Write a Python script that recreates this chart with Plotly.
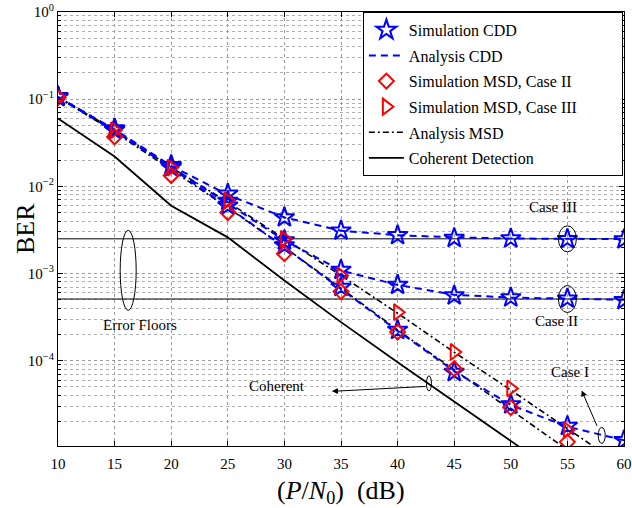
import math
import plotly.graph_objects as go

# ---------------- data ----------------
snr_db = [10, 15, 20, 25, 30, 35, 40, 45, 50, 55, 60]
snr_msd = [10, 15, 20, 25, 30, 35, 40, 45, 50, 55]

sim_cdd_case1 = [0.105, 0.044, 0.0165, 0.0060, 0.0021, 7.0e-4, 2.25e-4, 7.4e-5, 3.15e-5, 1.78e-5, 1.22e-5]
sim_cdd_case2 = [0.107, 0.045, 0.0170, 0.0068, 0.0024, 1.10e-3, 7.4e-4, 5.6e-4, 5.3e-4, 5.15e-4, 4.95e-4]
sim_cdd_case3 = [0.108, 0.046, 0.0175, 0.0082, 0.0044, 3.1e-3, 2.75e-3, 2.55e-3, 2.52e-3, 2.48e-3, 2.46e-3]

ana_cdd_case1 = [0.105, 0.043, 0.0163, 0.0058, 0.0020, 6.6e-4, 2.2e-4, 7.6e-5, 3.1e-5, 1.75e-5, 1.22e-5]
ana_cdd_case2 = [0.105, 0.044, 0.0167, 0.0064, 0.0024, 1.08e-3, 7.4e-4, 5.7e-4, 5.3e-4, 5.15e-4, 5.0e-4]
ana_cdd_case3 = [0.106, 0.045, 0.0172, 0.0080, 0.0044, 3.1e-3, 2.75e-3, 2.6e-3, 2.52e-3, 2.5e-3, 2.48e-3]

sim_msd_case2 = [0.104, 0.037, 0.0133, 0.0050, 0.00169, 6.2e-4, 2.13e-4, 8.1e-5, 2.9e-5, 1.17e-5]
sim_msd_case3 = [0.108, 0.044, 0.0164, 0.0069, 0.0025, 9.5e-4, 3.6e-4, 1.26e-4, 4.8e-5, 1.6e-5]

ana_msd_case2 = [0.105, 0.042, 0.0155, 0.0057, 0.0020, 6.8e-4, 2.25e-4, 7.8e-5, 2.7e-5, 9.5e-6, 3.3e-6]
ana_msd_case3 = [0.106, 0.044, 0.0165, 0.0066, 0.0025, 9.5e-4, 3.5e-4, 1.25e-4, 4.6e-5, 1.65e-5, 6.0e-6]

coherent = [0.060, 0.022, 0.0060, 0.0026, 8.3e-4, 2.77e-4, 9.6e-5, 3.4e-5, 1.2e-5, 4.2e-6, 1.5e-6]

floor_case3 = 2.5e-3
floor_case2 = 5.1e-4

x_ticks = [10, 15, 20, 25, 30, 35, 40, 45, 50, 55, 60]
y_ticks = [1, 0.1, 0.01, 0.001, 0.0001]
y_ticktext = ["10<sup>0</sup>", "10<sup>\u22121</sup>", "10<sup>\u22122</sup>",
              "10<sup>\u22123</sup>", "10<sup>\u22124</sup>"]

FONT = "Liberation Serif, Times New Roman, serif"
BLUE = "#0000ff"
RED = "#ff0000"

W, H = 632, 508
ML, MR, MT, MB = 58, 8, 12, 62
PW, PH = W - ML - MR, H - MT - MB
YMIN = math.log10(1.05e-5)
YMAX = 0.0


def py(logv):
    """log10 value -> paper y"""
    return (logv - YMIN) / (YMAX - YMIN)


def px_x(pix):
    """window pixel x -> paper x"""
    return (pix - ML) / PW


def px_y(pix):
    """window pixel y -> paper y"""
    return (H - MB - pix) / PH


fig = go.Figure()

# error floor lines
for fl in [floor_case3, floor_case2]:
    fig.add_trace(go.Scatter(x=[snr_db[0], snr_db[-1]], y=[fl, fl], mode="lines",
                             line=dict(color="black", width=1), showlegend=False,
                             hoverinfo="skip"))

# coherent
fig.add_trace(go.Scatter(x=snr_db, y=coherent, mode="lines", name="Coherent Detection",
                         legendgroup="coh", line=dict(color="black", width=1.8), legendrank=6))

# analysis MSD
for i, ys in enumerate([ana_msd_case2, ana_msd_case3]):
    fig.add_trace(go.Scatter(x=snr_db, y=ys, mode="lines", name="Analysis MSD",
                             legendgroup="amsd", showlegend=(i == 0), legendrank=5,
                             line=dict(color="black", width=1.6, dash="6px,3px,2px,3px")))

# analysis CDD
for i, ys in enumerate([ana_cdd_case1, ana_cdd_case2, ana_cdd_case3]):
    fig.add_trace(go.Scatter(x=snr_db, y=ys, mode="lines", name="Analysis CDD",
                             legendgroup="acdd", showlegend=(i == 0), legendrank=2,
                             line=dict(color=BLUE, width=2, dash="7px,5px")))

# simulation CDD
for i, ys in enumerate([sim_cdd_case1, sim_cdd_case2, sim_cdd_case3]):
    fig.add_trace(go.Scatter(x=snr_db, y=ys, mode="markers", name="Simulation CDD",
                             legendgroup="scdd", showlegend=(i == 0), legendrank=1,
                             marker=dict(symbol="star-open", size=15, color=BLUE,
                                         line=dict(width=2, color=BLUE))))

# simulation MSD
fig.add_trace(go.Scatter(x=snr_msd, y=sim_msd_case2, mode="markers",
                         name="Simulation MSD, Case II", legendgroup="smsd2", legendrank=3,
                         marker=dict(symbol="diamond-open", size=11.5, color=RED,
                                     line=dict(width=2, color=RED))))
fig.add_trace(go.Scatter(x=snr_msd, y=sim_msd_case3, mode="markers",
                         name="Simulation MSD, Case III\u00a0\u00a0\u00a0\u00a0\u00a0\u00a0\u00a0\u00a0\u00a0\u00a0",
                         legendgroup="smsd3", legendrank=4,
                         marker=dict(symbol="triangle-right-open", size=14, color=RED,
                                     line=dict(width=2, color=RED))))

L = math.log10
XPD = PW / 50.0  # pixels per dB

# ellipses: (center x in dB, center log10(BER), width px, height px)
ellipses = [
    (55, L(floor_case3), 18, 26),
    (55, L(floor_case2), 18, 27),
    (16.2, -2.964, 16, 80),
    (42.77, -4.26, 5, 15),
    (58.03, -4.857, 7, 16),
]
for (cx, cy, w, h) in ellipses:
    yc = py(cy)
    fig.add_shape(type="circle", xref="x", yref="paper",
                  x0=cx - w / 2 / XPD, x1=cx + w / 2 / XPD,
                  y0=yc - h / 2 / PH, y1=yc + h / 2 / PH,
                  line=dict(color="black", width=1), layer="above")

texts = [
    ("Case III", 53.73, -2.242),
    ("Case II", 54.08, -3.545),
    ("Case I", 55.23, -4.134),
    ("Error Floors", 17.24, -3.595),
    ("Coherent", 29.35, -4.295),
]
for (t, tx, ty) in texts:
    fig.add_annotation(x=tx, y=py(ty), xref="x", yref="paper", text=t, showarrow=False,
                       xanchor="center", yanchor="middle",
                       font=dict(family=FONT, size=15, color="black"))

# arrows
fig.add_annotation(x=34.2, y=py(-4.352), xref="x", yref="paper", ax=95, ay=-5, text="",
                   showarrow=True, arrowhead=2, arrowsize=1.2, arrowwidth=1, arrowcolor="black")
fig.add_annotation(x=56.26, y=py(-4.341), xref="x", yref="paper", ax=16, ay=37, text="",
                   showarrow=True, arrowhead=2, arrowsize=1.2, arrowwidth=1, arrowcolor="black")

# axis titles
fig.add_annotation(x=px_x(25), y=0.5, xref="paper", yref="paper", text="BER",
                   textangle=-90, showarrow=False, xanchor="center", yanchor="middle",
                   font=dict(family=FONT, size=26, color="black"))
fig.add_annotation(x=px_x(341), y=px_y(492), xref="paper", yref="paper",
                   text="(<i>P</i>/<i>N</i><sub>0</sub>)\u00a0\u00a0(dB)",
                   showarrow=False, xanchor="center", yanchor="middle",
                   font=dict(family=FONT, size=26, color="black"))

fig.update_layout(
    width=W, height=H,
    margin=dict(l=ML, r=MR, t=MT, b=MB),
    paper_bgcolor="white", plot_bgcolor="white",
    font=dict(family=FONT, size=15, color="black"),
    showlegend=True,
    legend=dict(x=0.998, y=1.0, xanchor="right", yanchor="top",
                bgcolor="white", bordercolor="black", borderwidth=1,
                font=dict(family=FONT, size=16, color="black"),
                traceorder="grouped", tracegroupgap=1.8, itemwidth=35),
)

fig.update_xaxes(
    range=[10, 60], tickmode="array", tickvals=x_ticks, automargin=False,
    ticks="inside", ticklen=5, tickcolor="black", ticklabelstandoff=4,
    ticklabeloverflow="allow",
    showline=True, linecolor="black", linewidth=1, mirror="ticks",
    showgrid=True, gridcolor="#9a9a9a", griddash="dot", gridwidth=1,
    zeroline=False,
    tickfont=dict(family=FONT, size=15, color="black"),
)

fig.update_yaxes(
    type="log", range=[YMIN, YMAX], automargin=False,
    tickmode="array", tickvals=y_ticks, ticktext=y_ticktext,
    ticklabeloverflow="allow",
    ticks="inside", ticklen=5, tickcolor="black",
    showline=True, linecolor="black", linewidth=1, mirror="ticks",
    showgrid=True, gridcolor="#9a9a9a", griddash="dot", gridwidth=1,
    minor=dict(dtick="D1", ticks="inside", ticklen=3, tickcolor="black",
               showgrid=True, gridcolor="#b0b0b0", griddash="dot", gridwidth=1),
    zeroline=False,
    tickfont=dict(family=FONT, size=15, color="black"),
)

# remove the browser's default 8px body margin so the figure fills the window
fig.write_html("out.html",
               config={"displayModeBar": False},
               post_script="document.body.style.margin='0';document.body.style.overflow='hidden';")
